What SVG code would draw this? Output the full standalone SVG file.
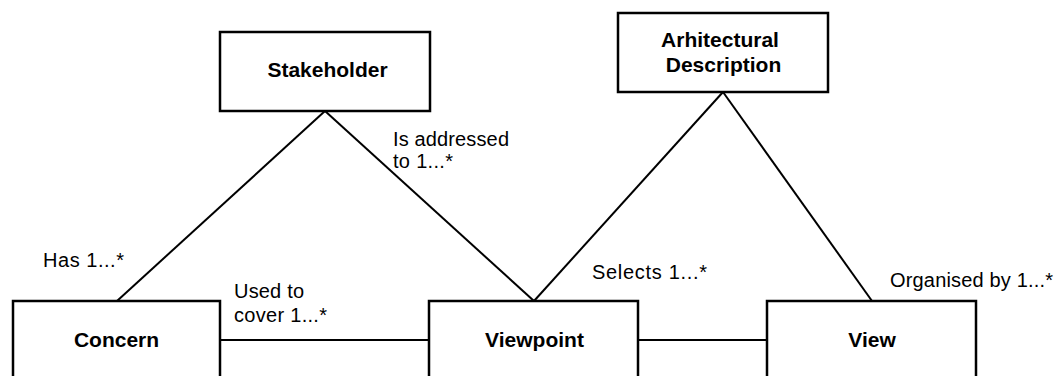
<svg xmlns="http://www.w3.org/2000/svg" width="1064" height="376" viewBox="0 0 1064 376">
<style>
.box{fill:#fff;stroke:#000;stroke-width:2.5}
.con{stroke:#000;stroke-width:2;fill:none}
.nl{font-family:"Liberation Sans",Arial,sans-serif;font-weight:bold;font-size:21px;fill:#000;text-anchor:middle}
.el{font-family:"Liberation Sans",Arial,sans-serif;font-size:20px;fill:#000}
</style>
<rect width="1064" height="376" fill="#fff"/>
<g id="connectors">
<line class="con" x1="325" y1="111" x2="117" y2="301"/>
<line class="con" x1="325" y1="111" x2="534" y2="301"/>
<line class="con" x1="723" y1="92" x2="534" y2="301"/>
<line class="con" x1="723" y1="92" x2="872" y2="301"/>
<line class="con" x1="220" y1="340" x2="429" y2="340"/>
<line class="con" x1="638" y1="340" x2="767" y2="340"/>
<text class="el" x="43" y="267" textLength="81">Has 1...*</text>
<text class="el" x="393" y="146" textLength="116">Is addressed</text>
<text class="el" x="393" y="168" textLength="60">to 1...*</text>
<text class="el" x="234" y="298" textLength="70">Used to</text>
<text class="el" x="234" y="322" textLength="93">cover 1...*</text>
<text class="el" x="592" y="279" textLength="115">Selects 1...*</text>
<text class="el" x="890" y="287" textLength="163">Organised by 1...*</text>
</g>
<g id="stakeholder">
<rect class="box" x="220" y="32" width="210" height="79"/>
<text class="nl" x="327.5" y="77">Stakeholder</text>
</g>
<g id="architectural-description">
<rect class="box" x="618" y="13" width="210" height="79"/>
<text class="nl" x="720" y="47">Arhitectural</text>
<text class="nl" x="723.5" y="72">Description</text>
</g>
<g id="concern">
<rect class="box" x="13" y="301" width="207" height="100"/>
<text class="nl" x="116.5" y="347">Concern</text>
</g>
<g id="viewpoint">
<rect class="box" x="429" y="301" width="209" height="100"/>
<text class="nl" x="534.5" y="347">Viewpoint</text>
</g>
<g id="view">
<rect class="box" x="767" y="301" width="209" height="100"/>
<text class="nl" x="872" y="347">View</text>
</g>
</svg>
